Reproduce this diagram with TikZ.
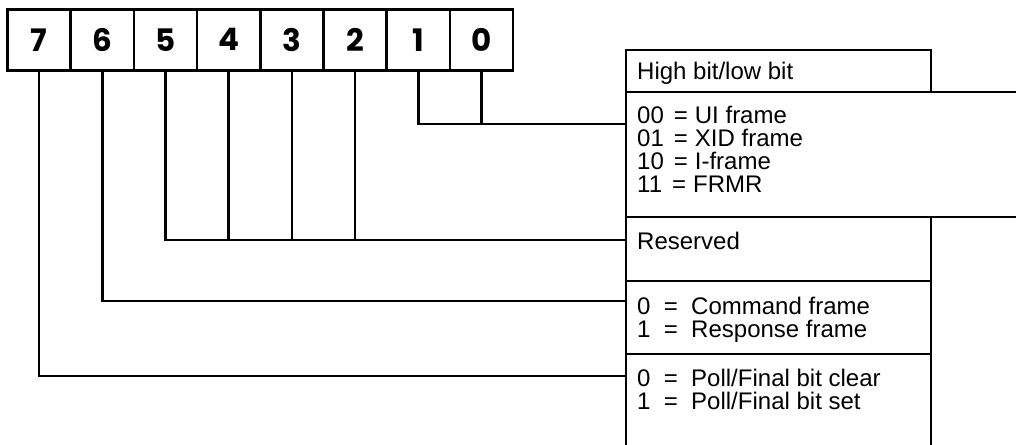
\documentclass[tikz,border=0pt]{standalone}
\usepackage{fontspec}
\setmainfont{Liberation Sans}
\newfontfamily\bitfont{Poppins}
\usetikzlibrary{positioning,calc}

\tikzset{
  bitbox/.style={draw, line width=2.5pt, minimum width=63.2pt, minimum height=61pt,
    inner sep=0pt, outer sep=0pt, font=\bitfont\bfseries\fontsize{31}{31}\selectfont},
  fieldbox/.style={draw, line width=2.5pt, anchor=north west, minimum width=305pt,
    inner sep=0pt, outer sep=0pt},
  fieldtext/.style={anchor=north west, align=left, inner sep=0pt,
    font=\fontsize{24}{23}\selectfont},
  wire/.style={line width=2.5pt}
}
\newcommand{\eqsp}{\hspace{10pt}=\hspace{7pt}}

\begin{document}
\begin{tikzpicture}[x=1pt,y=-1pt]
  \clip (0,0) rectangle (1016,444);
  % bit boxes
  \foreach \i [count=\k from 0] in {7,6,...,0}
    \node[bitbox] (b\i) at (39.1+63.2*\k,39.8) {\i};
  % field boxes
  \node[fieldbox, minimum height=42pt] (hdr) at (626,50) {};
  \node[fieldbox, minimum width=420pt, minimum height=125pt] (frm) at (hdr.south west) {};
  \node[fieldbox, minimum height=64pt] (rsv) at (frm.south west) {};
  \node[fieldbox, minimum height=73pt] (cmd) at (rsv.south west) {};
  \node[fieldbox, minimum height=110pt] (pf) at (cmd.south west) {};
  % labels
  \node[fieldtext] (thdr) at ([xshift=11pt,yshift=-12pt]hdr.north west) {High bit/low bit};
  \node[fieldtext] (tfrm) at ([xshift=11pt,yshift=-14pt]frm.north west)
    {00\eqsp UI frame\\01\eqsp XID frame\\10\eqsp I-frame\\11\eqsp FRMR};
  \node[fieldtext] (trsv) at ([xshift=11pt,yshift=-15pt]rsv.north west) {Reserved};
  \node[fieldtext] (tcmd) at ([xshift=11pt,yshift=-16pt]cmd.north west)
    {0 \ = \ Command frame\\1 \ = \ Response frame};
  \node[fieldtext] (tpf) at ([xshift=11pt,yshift=-15pt]pf.north west)
    {0 \ = \ Poll/Final bit clear\\1 \ = \ Poll/Final bit set};
  % connectors
  \coordinate (frmin) at ([yshift=-32pt]frm.north west);
  \coordinate (rsvin) at ([yshift=-23pt]rsv.north west);
  \coordinate (cmdin) at ([yshift=-20pt]cmd.north west);
  \coordinate (pfin) at ([yshift=-22pt]pf.north west);
  \draw[wire] (b1.south) |- (frmin);
  \draw[wire] (b0.south) -- (b0.south |- frmin);
  \draw[wire] (b5.south) |- (rsvin);
  \foreach \i in {4,3,2}
    \draw[wire] (b\i.south) -- (b\i.south |- rsvin);
  \draw[wire] (b6.south) |- (cmdin);
  \draw[wire] (b7.south) |- (pfin);
\end{tikzpicture}
\end{document}
